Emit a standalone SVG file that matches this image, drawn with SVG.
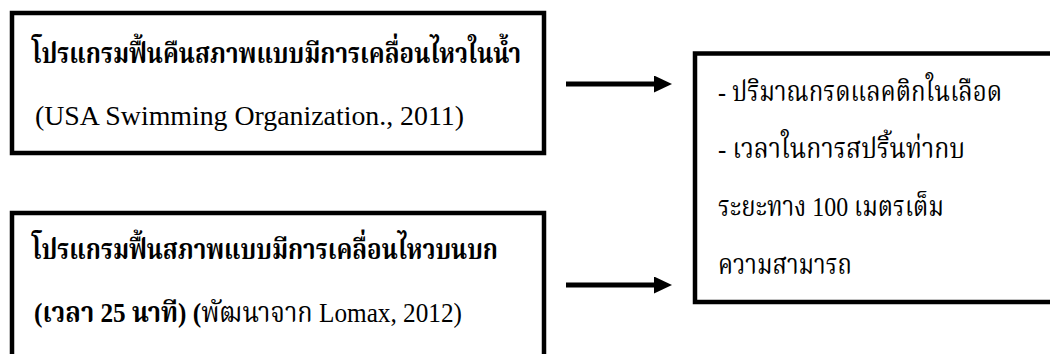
<svg xmlns="http://www.w3.org/2000/svg" width="1050" height="354" viewBox="0 0 1050 354">
<style>
.box{fill:#fff;stroke:#000;stroke-width:4.5}
.t{font-family:"Liberation Serif","Angsana New","Kinnari","Norasi","Noto Serif Thai","Noto Sans Thai",serif;font-size:28px;fill:#000}
.b{font-weight:bold}
.line{stroke:#000;stroke-width:5;fill:none}
</style>
<defs>
<marker id="ah" markerUnits="userSpaceOnUse" markerWidth="18" markerHeight="17" refX="0" refY="8.5" orient="auto" viewBox="0 0 18 17">
<polygon points="0,0 18,8.5 0,17" fill="#000"/>
</marker>
</defs>
<rect width="1050" height="354" fill="#fff"/>
<g id="node-water">
<rect class="box" x="12" y="13" width="532" height="140"/>
<text class="t b" x="32" y="63" textLength="489" lengthAdjust="spacingAndGlyphs">โปรแกรมฟื้นคืนสภาพแบบมีการเคลื่อนไหวในน้ำ</text>
<text class="t" x="35" y="125" textLength="429" lengthAdjust="spacingAndGlyphs">(USA Swimming Organization., 2011)</text>
</g>
<g id="node-land">
<rect class="box" x="12" y="213" width="532" height="170"/>
<text class="t b" x="32" y="259" textLength="466" lengthAdjust="spacingAndGlyphs">โปรแกรมฟื้นสภาพแบบมีการเคลื่อนไหวบนบก</text>
<text class="t" x="34" y="322" textLength="428" lengthAdjust="spacingAndGlyphs"><tspan class="b">(เวลา 25 นาที) (</tspan>พัฒนาจาก Lomax, 2012)</text>
</g>
<g id="node-outcome">
<rect class="box" x="695" y="53.5" width="370" height="248.5"/>
<text class="t" x="718" y="101" textLength="284" lengthAdjust="spacingAndGlyphs">- ปริมาณกรดแลคติกในเลือด</text>
<text class="t" x="718" y="158" textLength="247" lengthAdjust="spacingAndGlyphs">- เวลาในการสปริ้นท่ากบ</text>
<text class="t" x="718" y="216" textLength="226" lengthAdjust="spacingAndGlyphs">ระยะทาง 100 เมตรเต็ม</text>
<text class="t" x="718" y="274" textLength="134" lengthAdjust="spacingAndGlyphs">ความสามารถ</text>
</g>
<g id="connectors">
<line class="line" x1="566" y1="84" x2="654" y2="84" marker-end="url(#ah)"/>
<line class="line" x1="566" y1="285" x2="654" y2="285" marker-end="url(#ah)"/>
</g>
</svg>
